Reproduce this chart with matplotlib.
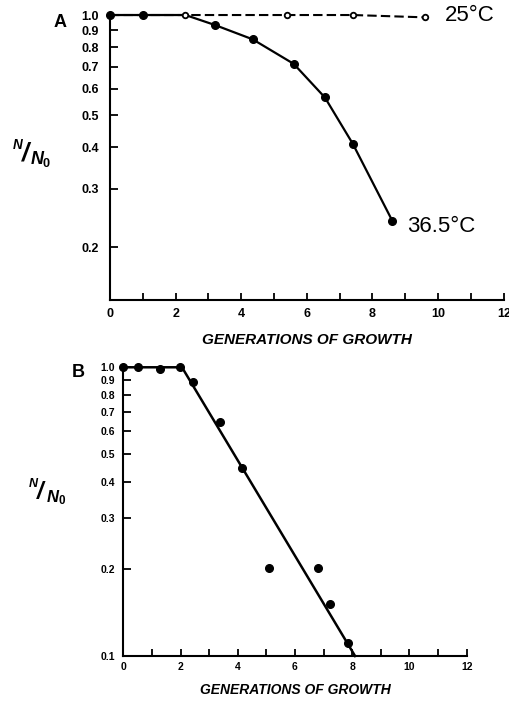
import numpy as np
import matplotlib
matplotlib.use("Agg")
import matplotlib.pyplot as plt
from matplotlib.ticker import FixedLocator, NullLocator

plt.rcParams['font.family'] = ['Liberation Sans', 'DejaVu Sans']
plt.rcParams['mathtext.fontset'] = 'custom'
plt.rcParams['mathtext.it'] = 'Liberation Sans:italic:bold'
plt.rcParams['mathtext.rm'] = 'Liberation Sans:bold'

# Panel A: 36.5 C (filled) and 25 C (open)
a_hot_x = [0, 1.0, 2.3, 3.2, 4.35, 5.6, 6.55, 7.4, 8.6]
a_hot_y = [1.0, 1.0, 1.0, 0.933, 0.845, 0.713, 0.565, 0.41, 0.241]
a_hot_pts_x = [0, 1.0, 3.2, 4.35, 5.6, 6.55, 7.4, 8.6]
a_hot_pts_y = [1.0, 1.0, 0.933, 0.845, 0.713, 0.565, 0.41, 0.241]
a_cold_x = [0, 2.3, 5.4, 7.4, 9.6]
a_cold_y = [1.0, 1.0, 1.0, 1.0, 0.984]

# Panel B: points and fitted line
b_x = [0, 0.52, 1.28, 1.98, 2.42, 3.38, 4.14, 5.1, 6.8, 7.23, 7.87]
b_y = [1.0, 1.0, 0.987, 1.0, 0.89, 0.648, 0.447, 0.202, 0.202, 0.152, 0.111]
fit_x = [0, 2.05, 8.1]
fit_y = [1.0, 1.0, 0.1]

a_yticks = [0.2, 0.3, 0.4, 0.5, 0.6, 0.7, 0.8, 0.9, 1.0]
b_yticks = [0.1, 0.2, 0.3, 0.4, 0.5, 0.6, 0.7, 0.8, 0.9, 1.0]
xticks = [0, 2, 4, 6, 8, 10, 12]


def style_axes(ax, yticks, ylim, fs, pad):
    ax.set_yscale('log')
    ax.set_xlim(0, 12)
    ax.set_ylim(*ylim)
    for s in ['top', 'right']:
        ax.spines[s].set_visible(False)
    for s in ['left', 'bottom']:
        ax.spines[s].set_linewidth(1.5)
    ax.yaxis.set_major_locator(FixedLocator(yticks))
    ax.yaxis.set_minor_locator(NullLocator())
    ax.set_yticklabels(['%.1f' % v for v in yticks])
    ax.xaxis.set_major_locator(FixedLocator(xticks))
    ax.xaxis.set_minor_locator(FixedLocator([1, 3, 5, 7, 9, 11]))
    ax.set_xticklabels([str(v) for v in xticks])
    ax.tick_params(which='both', direction='in', width=1.3, labelsize=fs)
    ax.tick_params(axis='y', pad=pad, length=6)
    ax.tick_params(which='both', axis='x', length=5, pad=pad - 2)
    for lab in ax.get_xticklabels() + ax.get_yticklabels():
        lab.set_fontweight('bold')


def ratio_label(x, y, fs):
    # N / N0 written as a slanted fraction
    fig.text(x - 0.020, y + 0.010, 'N', fontsize=fs * 0.75, fontweight='bold',
             style='italic', ha='center', va='center')
    fig.text(x - 0.006, y - 0.001, '/', fontsize=fs * 1.4, fontweight='bold',
             style='italic', ha='center', va='center')
    fig.text(x + 0.024, y - 0.009, r'$N_0$', fontsize=fs, ha='center', va='center')


fig = plt.figure(figsize=(5.1, 7.02), dpi=100)

axA = fig.add_axes([0.2157, 0.5726, 0.7720, 0.406])
style_axes(axA, a_yticks, (0.139, 1.0), 9, 8)
axA.plot(a_cold_x, a_cold_y, color='black', lw=1.5, dashes=(4.5, 2), clip_on=False)
axA.plot(a_hot_x, a_hot_y, color='black', lw=1.6, clip_on=False)
axA.plot(a_hot_pts_x, a_hot_pts_y, 'o', color='black', ms=5.5, clip_on=False)
axA.plot(a_cold_x[1:], a_cold_y[1:], 'o', mfc='white', mec='black', mew=1.3, ms=4, clip_on=False)
axA.text(10.2, 1.0, '25°C', fontsize=16, va='center', ha='left')
axA.text(9.05, 0.231, '36.5°C', fontsize=16, va='center', ha='left')
axA.set_xlabel('GENERATIONS OF GROWTH', fontsize=11, fontweight='bold', style='italic', labelpad=9)
fig.text(0.118, 0.968, 'A', fontsize=13, fontweight='bold', ha='center', va='center')
ratio_label(0.055, 0.783, 13)

axB = fig.add_axes([0.2418, 0.0655, 0.6732, 0.4113])
style_axes(axB, b_yticks, (0.1, 1.0), 7.5, 6)
axB.plot(fit_x, fit_y, color='black', lw=1.8, clip_on=False)
axB.plot(b_x, b_y, 'o', color='black', ms=5.5, clip_on=False)
axB.set_xlabel('GENERATIONS OF GROWTH', fontsize=10, fontweight='bold', style='italic', labelpad=8)
fig.text(0.153, 0.469, 'B', fontsize=13, fontweight='bold', ha='center', va='center')
ratio_label(0.085, 0.300, 12)

fig.savefig('out.png', dpi=100)
